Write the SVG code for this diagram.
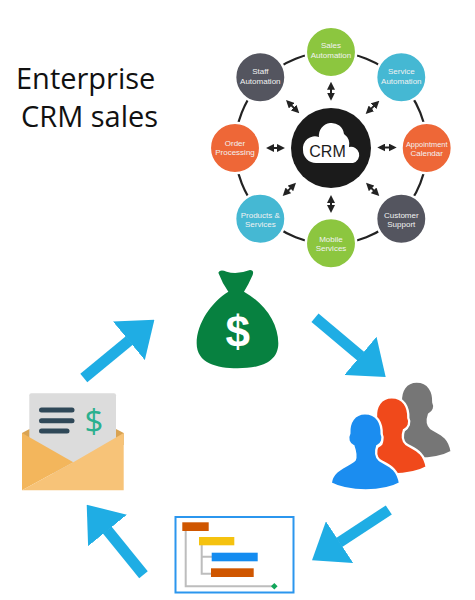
<svg xmlns="http://www.w3.org/2000/svg" width="475" height="600" viewBox="0 0 475 600">
<style>
.t{font-family:"Liberation Sans",Arial,sans-serif;font-size:8px;fill:#f2f2f2;text-anchor:middle}
.title{font-family:"Open Sans","Liberation Sans",sans-serif;font-size:29px;fill:#111}
.n{stroke:#fff;stroke-width:2.5}
.g{fill:#8cc63f}.b{fill:#45b8d3}.o{fill:#ee6737}.d{fill:#54555f}
.da{stroke:#222;stroke-width:2;marker-start:url(#sm);marker-end:url(#sm)}
.big{stroke:#1fade4;stroke-width:11;marker-end:url(#bh)}
.gl{fill:none;stroke:#bdbdbd;stroke-width:2}
.ln{stroke:#2f4858;stroke-width:5;stroke-linecap:round}
</style>
<defs>
<marker id="sm" viewBox="0 0 6 6" refX="4" refY="3" markerWidth="4" markerHeight="4" orient="auto-start-reverse"><path d="M0 0L6 3L0 6Z" fill="#222"/></marker>
<marker id="bh" viewBox="0 0 33 50" refX="0.5" refY="25" markerUnits="userSpaceOnUse" markerWidth="33" markerHeight="50" orient="auto"><path d="M0 0L33 25L0 50Z" fill="#1fade4"/></marker>
<path id="person" d="M135 130C172 130 186 160 185 192C192 205 186 222 172 228C166 245 165 258 178 270C200 285 232 290 240 340C190 368 85 368 32 340C38 295 85 290 104 270C110 258 106 245 100 228C86 222 80 205 88 190C86 158 102 130 135 130Z" stroke="#fff" stroke-width="7"/>
</defs>

<text class="title" x="16" y="89">Enterprise</text>
<text class="title" x="21" y="127">CRM sales</text>

<g id="crm-ring"><circle cx="331" cy="148" r="96" fill="none" stroke="#222" stroke-width="2.2"/></g>
<g id="connectors">
<line class="da" x1="331" y1="84.4" x2="331" y2="98"/>
<line class="da" x1="331" y1="197.7" x2="331" y2="210.3"/>
<line class="da" x1="268.7" y1="148" x2="282.3" y2="148"/>
<line class="da" x1="380" y1="147.5" x2="394" y2="147.5"/>
<line class="da" x1="287.9" y1="101.9" x2="297.4" y2="111.4"/>
<line class="da" x1="377.4" y1="102.6" x2="367.6" y2="112.1"/>
<line class="da" x1="294.1" y1="184.6" x2="284.6" y2="194.1"/>
<line class="da" x1="367.9" y1="184.6" x2="377.4" y2="194.1"/>
<line class="big" x1="83.8" y1="378" x2="129.3" y2="340.5"/>
<line class="big" x1="315" y1="317.7" x2="360.8" y2="356.2"/>
<line class="big" x1="388.8" y1="510" x2="339.2" y2="542.5"/>
<line class="big" x1="143.5" y1="574.7" x2="107.2" y2="530"/>
</g>
<g id="sales-automation"><circle class="n g" cx="331" cy="52" r="25.2"/><text class="t" x="331" y="47.5">Sales</text><text class="t" x="331" y="57.5">Automation</text></g>
<g id="service-automation"><circle class="n b" cx="401.3" cy="77.3" r="25.2"/><text class="t" x="401.3" y="74">Service</text><text class="t" x="401.3" y="83.5">Automation</text></g>
<g id="appointment-calendar"><circle class="n o" cx="426.7" cy="148" r="25.2"/><text class="t" x="426.7" y="147" style="font-size:7.4px">Appointment</text><text class="t" x="426.7" y="156">Calendar</text></g>
<g id="customer-support"><circle class="n d" cx="401.3" cy="218.7" r="25.2"/><text class="t" x="401.3" y="217.5">Customer</text><text class="t" x="401.3" y="227">Support</text></g>
<g id="mobile-services"><circle class="n g" cx="331" cy="243.3" r="25.2"/><text class="t" x="331" y="241.5">Mobile</text><text class="t" x="331" y="251">Services</text></g>
<g id="products-services"><circle class="n b" cx="260.3" cy="218.7" r="25.2"/><text class="t" x="260.3" y="217.5">Products &amp;</text><text class="t" x="260.3" y="227">Services</text></g>
<g id="order-processing"><circle class="n o" cx="235" cy="148" r="25.2"/><text class="t" x="235" y="145.5">Order</text><text class="t" x="235" y="155">Processing</text></g>
<g id="staff-automation"><circle class="n d" cx="260.3" cy="77.3" r="25.2"/><text class="t" x="260.3" y="74">Staff</text><text class="t" x="260.3" y="83.5">Automation</text></g>
<g id="crm"><circle cx="331" cy="148" r="40" fill="#1b1b1b"/>
<path d="M316 163A13 13 0 0 1 303 150A12 12 0 0 1 319 137A12.5 12.5 0 0 1 344 134A13 13 0 0 1 349 147A8.2 8.2 0 0 1 353 163Z" fill="#fff"/>
<text x="327.5" y="156.5" font-family="'Liberation Sans',sans-serif" font-size="16" fill="#1b1b1b" text-anchor="middle">CRM</text></g>

<g id="money-bag"><path transform="translate(185 260) scale(.3333)" d="M100 38Q105 26 125 35Q155 45 195 30Q208 30 203 45Q190 75 177 95C240 130 280 190 280 250C280 310 220 325 158 325C95 325 35 310 35 250C35 190 80 125 130 95Q112 70 100 38Z" fill="#078140"/>
<text x="237.7" y="347" font-family="'Liberation Sans',sans-serif" font-weight="bold" font-size="44" fill="#fff" text-anchor="middle">$</text></g>

<g id="people" transform="translate(320 370) scale(.3333)">
<use href="#person" x="155" y="-95" fill="#767676"/>
<use href="#person" x="80" y="-48" fill="#f0491b"/>
<use href="#person" fill="#1b8df0"/>
</g>

<g id="gantt"><rect x="175.5" y="517" width="118" height="75.5" fill="#fff" stroke="#2b96ee" stroke-width="2"/>
<path class="gl" d="M185.7 531V586.3H274M201.7 545V573.7H211M201.7 556.7H212"/>
<rect x="182.3" y="522.3" width="26.4" height="8.7" fill="#cf5600"/>
<rect x="199" y="537" width="35.3" height="8.3" fill="#f5c20f"/>
<rect x="211.7" y="552.7" width="46" height="8.6" fill="#148cf0"/>
<rect x="211" y="568.3" width="42.7" height="8.7" fill="#cf5600"/>
<path d="M274.3 583L277.6 586.3L274.3 589.6L271 586.3Z" fill="#11a65a"/></g>

<g id="envelope">
<path d="M22 433L29.5 429H116L123.7 433V445H22Z" fill="#d9a352"/>
<rect x="29.3" y="393.3" width="86.7" height="80" rx="2" fill="#dcdcdc"/>
<line class="ln" x1="41.5" y1="410" x2="72" y2="410"/><line class="ln" x1="41.5" y1="420.7" x2="72" y2="420.7"/><line class="ln" x1="41.5" y1="431" x2="67" y2="431"/>
<text x="94" y="432.5" font-family="'Open Sans','Liberation Sans',sans-serif" font-size="33" fill="#2bb08f" text-anchor="middle">$</text>
<path d="M22 433L73.3 462.3L22 490.3Z" fill="#f3b65c"/>
<path d="M123.7 433L73.3 462.3L22 490.3H123.7Z" fill="#f7c378"/></g>
</svg>
